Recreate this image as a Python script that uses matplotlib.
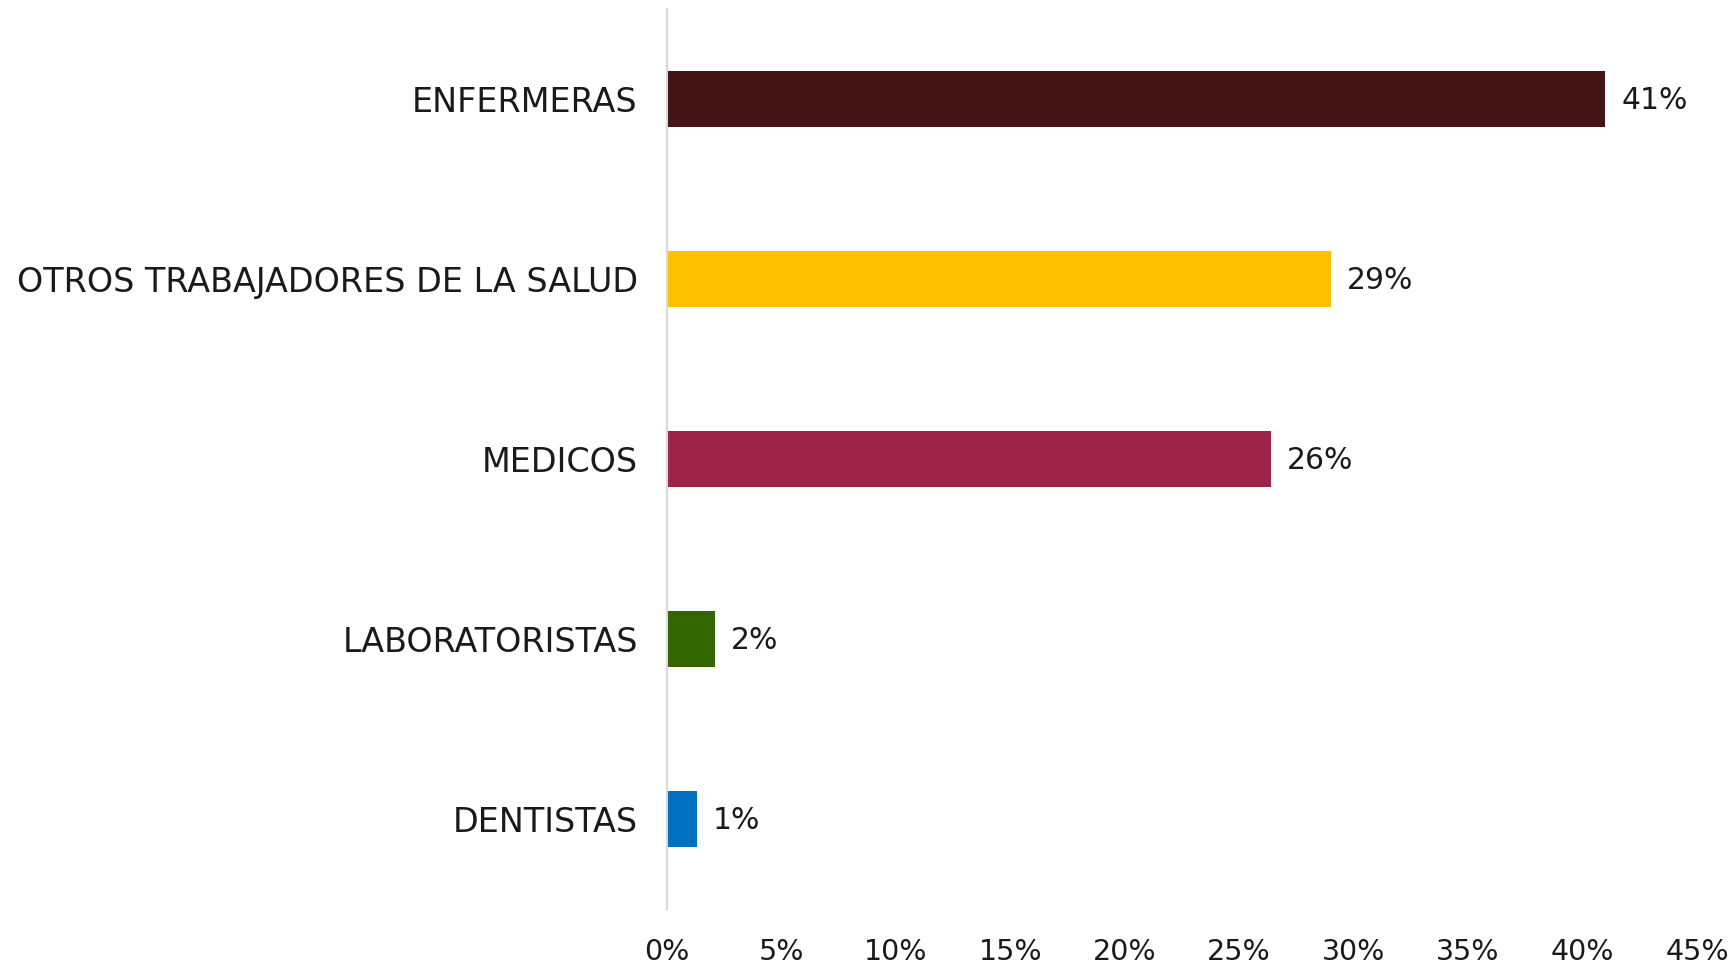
import matplotlib
matplotlib.use("Agg")
import matplotlib.pyplot as plt

categories = ["ENFERMERAS", "OTROS TRABAJADORES DE LA SALUD", "MEDICOS", "LABORATORISTAS", "DENTISTAS"]
values = [41.0, 29.0, 26.4, 2.1, 1.3]
value_labels = ["41%", "29%", "26%", "2%", "1%"]
colors = ["#451416", "#FFC000", "#9D2449", "#336600", "#0070C0"]
xticks = [0, 5, 10, 15, 20, 25, 30, 35, 40, 45]
xtick_labels = [f"{t}%" for t in xticks]

plt.rcParams['font.family'] = ['DejaVu Sans']

fig = plt.figure(figsize=(17.34, 9.67), dpi=100)
fig.patch.set_facecolor("white")
ax = fig.add_axes([667/1734, 1-909/967, (1697-667)/1734, 900/967])
ax.set_facecolor("none")

y = list(range(len(categories)))
ax.barh(y, values, height=0.31, color=colors)
ax.set_ylim(len(categories)-0.5, -0.5)
ax.set_xlim(0, 45)

for yi, v, lab in zip(y, values, value_labels):
    ax.text(v + 0.7, yi + 0.01, lab, va="center", ha="left", fontsize=21.5, color="#1a1a1a")

ax.set_yticks(y)
ax.set_yticklabels(categories, fontsize=24, color="#1a1a1a")
ax.set_xticks(xticks)
ax.set_xticklabels(xtick_labels, fontsize=20.5, color="#1a1a1a")
ax.tick_params(axis="both", length=0)
ax.tick_params(axis="y", pad=21)
ax.tick_params(axis="x", pad=21)

for s in ["top", "right", "bottom"]:
    ax.spines[s].set_visible(False)
ax.spines["left"].set_color("#d9d9d9")
ax.spines["left"].set_linewidth(1.5)

fig.savefig("out.png", dpi=100, facecolor="white")
